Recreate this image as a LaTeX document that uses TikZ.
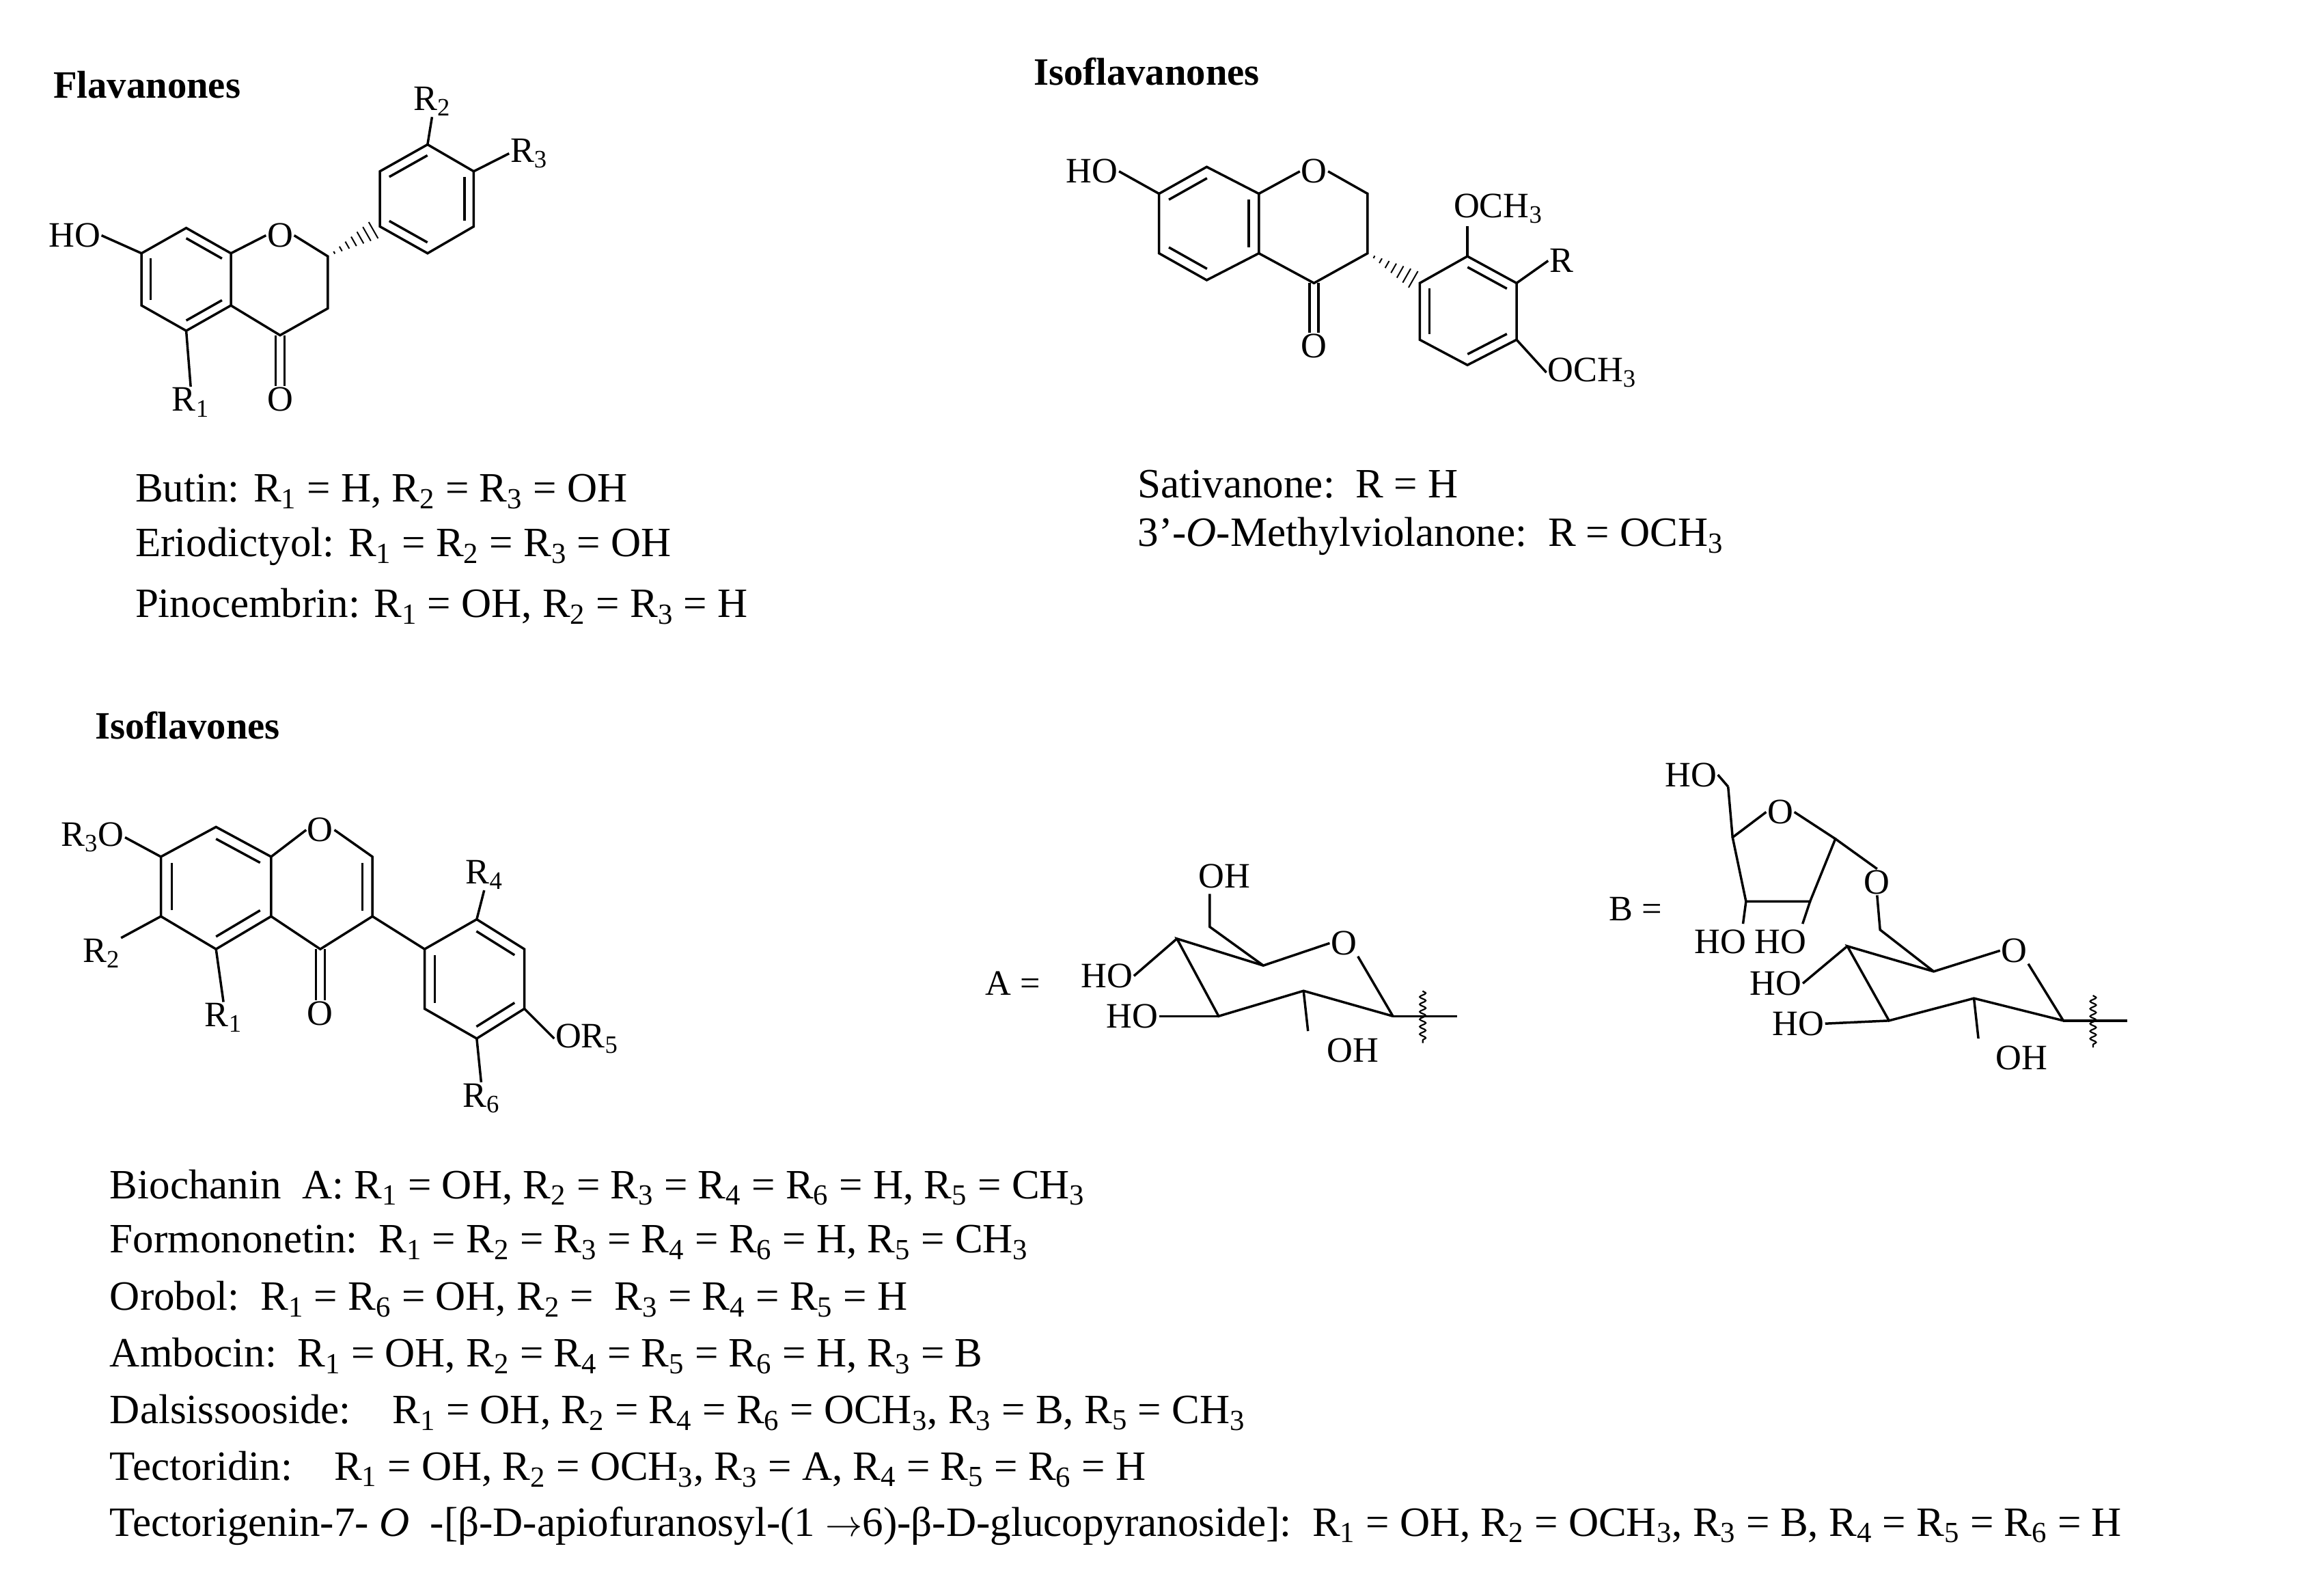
\documentclass[tikz,border=0pt]{standalone}
\usepackage{fontspec}
\setmainfont{Liberation Serif}
\usetikzlibrary{calc,decorations.pathmorphing}
\newcommand\subx[1]{\textsubscript{#1}}
\newcommand\dbl[3]{\draw ($(#1)!0.2!(#3)$) -- ($(#2)!0.2!(#3)$);}
\newcommand\hashb[2]{\foreach \i in {1,...,7}{\coordinate (hp) at ($(#1)!\i/8!(#2)$);
 \draw[line width=0.9pt] ($(hp)!{\i*0.9pt}!90:(#2)$) -- ($(hp)!{\i*0.9pt}!-90:(#2)$);}}
\begin{document}
\begin{tikzpicture}[x=1pt,y=-1pt,line width=1.6pt,
 lab/.style={inner sep=0pt,font=\fontsize{24}{26}\selectfont},
 txt/.style={anchor=west,inner sep=0pt,font=\fontsize{28}{30}\selectfont},
 head/.style={anchor=west,inner sep=0pt,font=\fontsize{26}{28}\selectfont\bfseries}]
\fill[white] (0,0) rectangle (1560,1061);
\useasboundingbox (0,0) rectangle (1560,1061);
% ---------- Flavanone
\node[head] (h1) at (35,57) {Flavanones};
\coordinate (a1) at (95,170); \coordinate (a2) at (125,153); \coordinate (a3) at (155,170);
\coordinate (a4) at (155,205); \coordinate (a5) at (125,222); \coordinate (a6) at (95,205);
\coordinate (ac) at (125,187.5);
\coordinate (c2) at (220,172); \coordinate (c3) at (220,207); \coordinate (c4) at (188,225);
\node[lab] (fo) at (188,158) {O};
\draw (a1)--(a2)--(a3)--(a4)--(a5)--(a6)--cycle;
\dbl{a2}{a3}{ac}\dbl{a4}{a5}{ac}\dbl{a6}{a1}{ac}
\draw (a3)--(fo.west); \draw (fo.east)--(c2)--(c3)--(c4)--(a4);
\node[lab] (fo2) at (188,268) {O};
\draw ($(c4)+(-3,0)$)--($(fo2.north)+(-3,0)$); \draw ($(c4)+(3,0)$)--($(fo2.north)+(3,0)$);
\node[lab] (fho) at (50,158) {HO};
\draw (fho.east)--(a1);
\node[lab] (fr1) at (128,270) {R\subx{1}};
\draw (a5)--(fr1.north);
\coordinate (b1) at (255,152); \coordinate (b2) at (255,115); \coordinate (b3) at (287,97);
\coordinate (b4) at (318,115); \coordinate (b5) at (318,152); \coordinate (b6) at (287,170);
\coordinate (bc) at (286.5,133.5);
\draw (b1)--(b2)--(b3)--(b4)--(b5)--(b6)--cycle;
\dbl{b2}{b3}{bc}\dbl{b4}{b5}{bc}\dbl{b6}{b1}{bc}
\hashb{c2}{b1}
\node[lab] (fr2) at (290,68) {R\subx{2}}; \draw (b3)--(fr2.south);
\node[lab] (fr3) at (355,103) {R\subx{3}}; \draw (b4)--(fr3.west);
\node[txt] (t1) at (90,330) {Butin: R\subx{1} = H, R\subx{2} = R\subx{3} = OH};
\node[txt] (t2) at (90,367) {Eriodictyol: R\subx{1} = R\subx{2} = R\subx{3} = OH};
\node[txt] (t3) at (90,407) {Pinocembrin: R\subx{1} = OH, R\subx{2} = R\subx{3} = H};
% ---------- Isoflavanone
\node[head] (h2) at (693,48) {Isoflavanones};
\coordinate (i1) at (778,130); \coordinate (i2) at (810,112); \coordinate (i3) at (845,130);
\coordinate (i4) at (845,170); \coordinate (i5) at (810,188); \coordinate (i6) at (778,170);
\coordinate (ic) at (811,150);
\draw (i1)--(i2)--(i3)--(i4)--(i5)--(i6)--cycle;
\dbl{i1}{i2}{ic}\dbl{i3}{i4}{ic}\dbl{i5}{i6}{ic}
\node[lab] (io) at (882,115) {O};
\coordinate (d2) at (918,130); \coordinate (d3) at (918,170); \coordinate (d4) at (882,190);
\draw (i3)--(io.west); \draw (io.east)--(d2)--(d3)--(d4)--(i4);
\node[lab] (io2) at (882,232) {O};
\draw ($(d4)+(-3,0)$)--($(io2.north)+(-3,0)$); \draw ($(d4)+(3,0)$)--($(io2.north)+(3,0)$);
\node[lab] (iho) at (733,115) {HO}; \draw (iho.east)--(i1);
\coordinate (e1) at (953,190); \coordinate (e2) at (985,172); \coordinate (e3) at (1018,190);
\coordinate (e4) at (1018,228); \coordinate (e5) at (985,245); \coordinate (e6) at (953,228);
\coordinate (ec) at (985.5,208.5);
\draw (e1)--(e2)--(e3)--(e4)--(e5)--(e6)--cycle;
\dbl{e2}{e3}{ec}\dbl{e4}{e5}{ec}\dbl{e6}{e1}{ec}
\hashb{d3}{e1}
\node[lab,anchor=west] (ime) at (975,140) {OCH\subx{3}}; \draw (e2)--(985,152);
\node[lab] (ir) at (1048,175) {R}; \draw (e3)--(ir.west);
\node[lab,anchor=west] (ime2) at (1038,250) {OCH\subx{3}}; \draw (e4)--(ime2.west);
\node[txt] (t4) at (763,325) {Sativanone:\ \ R = H};
\node[txt] (t5) at (763,360) {3'-\textit{O}-Methylviolanone:\ \ R = OCH\subx{3}};
% ---------- Isoflavone
\node[head] (h3) at (63,487) {Isoflavones};
\coordinate (f1) at (108,575); \coordinate (f2) at (145,555); \coordinate (f3) at (182,575);
\coordinate (f4) at (182,615); \coordinate (f5) at (145,637); \coordinate (f6) at (108,615);
\coordinate (fc) at (145,595);
\draw (f1)--(f2)--(f3)--(f4)--(f5)--(f6)--cycle;
\dbl{f2}{f3}{fc}\dbl{f4}{f5}{fc}\dbl{f6}{f1}{fc}
\node[lab] (so) at (215,557) {O};
\coordinate (g2) at (250,575); \coordinate (g3) at (250,615); \coordinate (g4) at (215,637);
\coordinate (gc) at (216,596);
\draw (f3)--(so.west); \draw (so.east)--(g2)--(g3)--(g4)--(f4); \dbl{g2}{g3}{gc}
\node[lab] (so2) at (215,680) {O};
\draw ($(g4)+(-3,0)$)--($(so2.north)+(-3,0)$); \draw ($(g4)+(3,0)$)--($(so2.north)+(3,0)$);
\node[lab] (sr3) at (62,562) {R\subx{3}O}; \draw (sr3.east)--(f1);
\node[lab] (sr2) at (68,640) {R\subx{2}}; \draw (sr2.north east)--(f6);
\node[lab] (sr1) at (150,683) {R\subx{1}}; \draw (f5)--(sr1.north);
\coordinate (k1) at (285,637); \coordinate (k2) at (320,617); \coordinate (k3) at (352,637);
\coordinate (k4) at (352,677); \coordinate (k5) at (320,697); \coordinate (k6) at (285,677);
\coordinate (kc) at (319,657);
\draw (k1)--(k2)--(k3)--(k4)--(k5)--(k6)--cycle;
\dbl{k2}{k3}{kc}\dbl{k4}{k5}{kc}\dbl{k6}{k1}{kc}
\draw (g3)--(k1);
\node[lab] (sr4) at (325,587) {R\subx{4}}; \draw (k2)--(sr4.south);
\node[lab,anchor=west] (sr5) at (372,697) {OR\subx{5}}; \draw (k4)--(sr5.west);
\node[lab] (sr6) at (323,737) {R\subx{6}}; \draw (k5)--(sr6.north);
% ---------- Sugar A
\node[lab] (aeq) at (680,660) {A =};
\coordinate (u4) at (790,630); \coordinate (u3) at (818,682); \coordinate (u2) at (875,665);
\coordinate (u1) at (935,682); \coordinate (u5) at (848,648); \coordinate (u6) at (812,622);
\node[lab] (uo) at (902,633) {O};
\draw (u1)--(uo.south east); \draw (uo.west)--(u5)--(u4)--(u3)--(u2)--(u1);
\draw (u5)--(u6)--(812,600);
\node[lab] (uoh) at (822,588) {OH};
\node[lab] (uho1) at (743,655) {HO}; \draw (uho1.east)--(u4);
\node[lab] (uho2) at (760,682) {HO}; \draw (uho2.east)--(u3);
\node[lab] (uoh2) at (908,705) {OH}; \draw (u2)--(878,692);
\draw (u1)--(978,682);
\draw[line width=1pt,decorate,decoration={snake,amplitude=2pt,segment length=5pt}] (955,665)--(955,700);
% ---------- Sugar B
\node[lab] (beq) at (1098,610) {B =};
\coordinate (v4) at (1240,635); \coordinate (v3) at (1268,685); \coordinate (v2) at (1325,670);
\coordinate (v1) at (1385,685); \coordinate (v5) at (1298,652); \coordinate (v6) at (1262,624);
\node[lab] (vo) at (1352,638) {O};
\draw (v1)--(vo.south east); \draw (vo.west)--(v5)--(v4)--(v3)--(v2)--(v1);
\node[lab] (vo6) at (1260,592) {O};
\draw (v5)--(v6)--(vo6.south);
\node[lab] (vho1) at (1192,660) {HO}; \draw (vho1.east)--(v4);
\node[lab] (vho2) at (1207,687) {HO}; \draw (vho2.east)--(v3);
\node[lab] (voh) at (1357,710) {OH}; \draw (v2)--(1328,697);
\draw (v1)--(1428,685);
\draw[line width=1pt,decorate,decoration={snake,amplitude=2pt,segment length=5pt}] (1405,668)--(1405,703);
% apiose
\node[lab] (wo) at (1195,545) {O};
\coordinate (w1) at (1232,563); \coordinate (w2) at (1215,605); \coordinate (w3) at (1172,605);
\coordinate (w4) at (1163,562); \coordinate (w5) at (1160,528);
\draw (wo.east)--(w1)--(w2)--(w3)--(w4)--(wo.west);
\draw (w1)--(vo6.north);
\draw (w4)--(w5);
\node[lab] (who) at (1135,520) {HO}; \draw (who.east)--(w5);
\draw (w3)--(1170,620); \draw (w2)--(1210,620);
\node[lab] (whh) at (1175,632) {HO HO};
% ---------- list
\node[txt] (l1) at (73,797) {Biochanin\ \ A: R\subx{1} = OH, R\subx{2} = R\subx{3} = R\subx{4} = R\subx{6} = H, R\subx{5} = CH\subx{3}};
\node[txt] (l2) at (73,834) {Formononetin:\ \ R\subx{1} = R\subx{2} = R\subx{3} = R\subx{4} = R\subx{6} = H, R\subx{5} = CH\subx{3}};
\node[txt] (l3) at (73,872) {Orobol:\ \ R\subx{1} = R\subx{6} = OH, R\subx{2} =\ \ R\subx{3} = R\subx{4} = R\subx{5} = H};
\node[txt] (l4) at (73,910) {Ambocin:\ \ R\subx{1} = OH, R\subx{2} = R\subx{4} = R\subx{5} = R\subx{6} = H, R\subx{3} = B};
\node[txt] (l5) at (73,948) {Dalsissooside:\ \ \ \ R\subx{1} = OH, R\subx{2} = R\subx{4} = R\subx{6} = OCH\subx{3}, R\subx{3} = B, R\subx{5} = CH\subx{3}};
\node[txt] (l6) at (73,986) {Tectoridin:\ \ \ \ R\subx{1} = OH, R\subx{2} = OCH\subx{3}, R\subx{3} = A, R\subx{4} = R\subx{5} = R\subx{6} = H};
\node[txt] (l7) at (73,1024) {Tectorigenin-7-\ \textit{O}\ \ -[β-D-apiofuranosyl-(1 $\rightarrow$6)-β-D-glucopyranoside]:\ \ R\subx{1} = OH, R\subx{2} = OCH\subx{3}, R\subx{3} = B, R\subx{4} = R\subx{5} = R\subx{6} = H};
\end{tikzpicture}
\end{document}
